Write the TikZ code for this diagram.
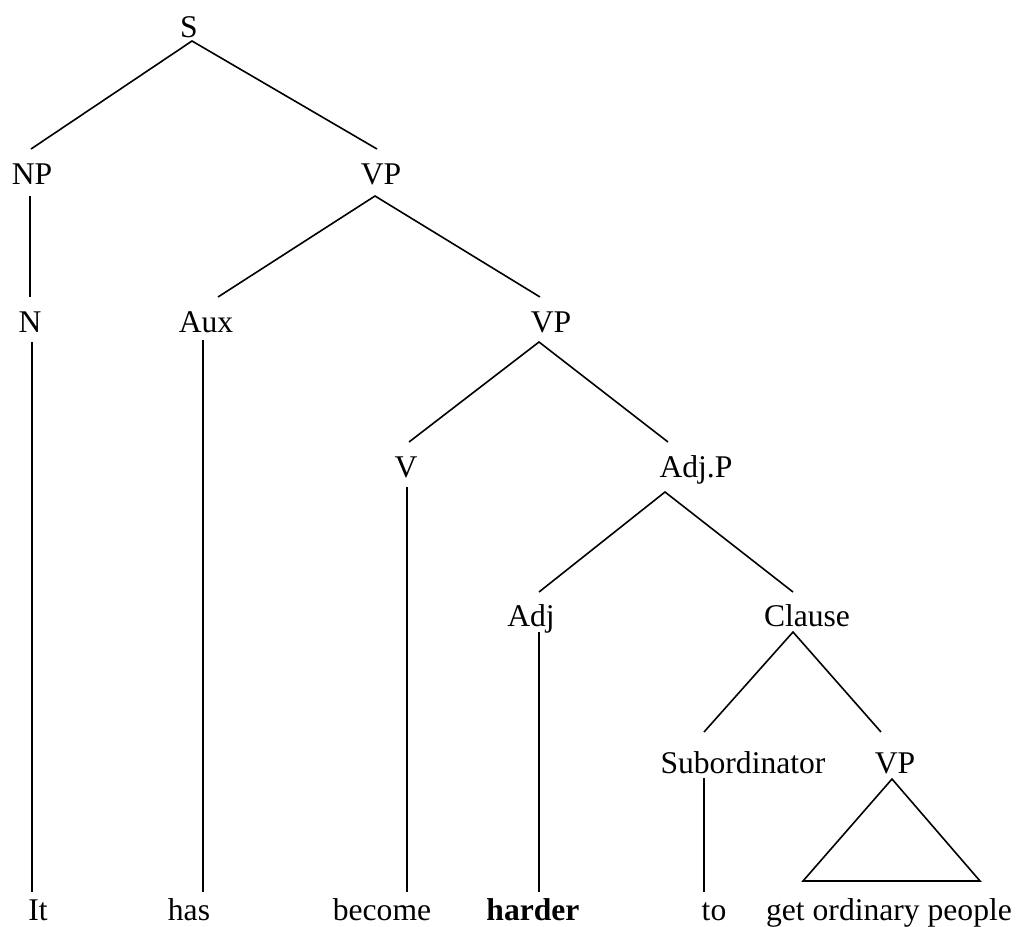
\documentclass[tikz,border=0pt]{standalone}
\usepackage{fontspec}
\setmainfont{Liberation Serif}
\begin{document}
\begin{tikzpicture}[x=1pt,y=-1pt,
  lab/.style={inner sep=0pt,anchor=base,font=\fontsize{31.6}{38}\selectfont},
  branch/.style={draw=black,line width=1.6pt}]
\useasboundingbox (0,0) rectangle (1022,926);

% ---- category labels (placed on their baselines) ----
\node[lab] (S)      at (189,37)  {S};
\node[lab] (NP)     at (32,184)  {NP};
\node[lab] (VPa)    at (381,184) {VP};
\node[lab] (N)      at (30,332)  {N};
\node[lab] (Aux)    at (206,332) {Aux};
\node[lab] (VPb)    at (551,332) {VP};
\node[lab] (V)      at (406,477) {V};
\node[lab] (AdjP)   at (696,477) {Adj.P};
\node[lab] (Adj)    at (531,626) {Adj};
\node[lab] (Clause) at (807,626) {Clause};
\node[lab] (Sub)    at (743,773) {Subordinator};
\node[lab] (VPc)    at (895,773) {VP};

% ---- words ----
\node[lab] (w1) at (38,920)  {It};
\node[lab] (w2) at (189,920) {has};
\node[lab] (w3) at (382,920) {become};
\node[lab] (w4) at (533,920) {\textbf{harder}};
\node[lab] (w5) at (714,920) {to};
\node[lab] (w6) at (889,920) {get ordinary people};

% ---- attachment points above (t) and below (b) each label ----
\coordinate (S-b)      at (192,41);
\coordinate (NP-t)     at (31,149);   \coordinate (NP-b)     at (30,196);
\coordinate (VPa-t)    at (377,149);  \coordinate (VPa-b)    at (375,196);
\coordinate (N-t)      at (30,297);   \coordinate (N-b)      at (32,342);
\coordinate (Aux-t)    at (218,297);  \coordinate (Aux-b)    at (203,340);
\coordinate (VPb-t)    at (540,297);  \coordinate (VPb-b)    at (539,342);
\coordinate (V-t)      at (409,442);  \coordinate (V-b)      at (407,487);
\coordinate (AdjP-t)   at (668,442);  \coordinate (AdjP-b)   at (665,492);
\coordinate (Adj-t)    at (539,592);  \coordinate (Adj-b)    at (539,632);
\coordinate (Clause-t) at (793,592);  \coordinate (Clause-b) at (793,632);
\coordinate (Sub-t)    at (704,732);  \coordinate (Sub-b)    at (704,778);
\coordinate (VPc-t)    at (881,732);  \coordinate (VPc-b)    at (892,779);
\coordinate (w1-t) at (32,892);
\coordinate (w2-t) at (203,892);
\coordinate (w3-t) at (407,892);
\coordinate (w4-t) at (539,892);
\coordinate (w5-t) at (704,892);
\coordinate (w6-l) at (803,881);
\coordinate (w6-r) at (980,881);

% ---- branches ----
\draw[branch] (NP-t) -- (S-b) -- (VPa-t);
\draw[branch] (NP-b) -- (N-t);
\draw[branch] (Aux-t) -- (VPa-b) -- (VPb-t);
\draw[branch] (V-t) -- (VPb-b) -- (AdjP-t);
\draw[branch] (Adj-t) -- (AdjP-b) -- (Clause-t);
\draw[branch] (Sub-t) -- (Clause-b) -- (VPc-t);
\draw[branch] (N-b) -- (w1-t);
\draw[branch] (Aux-b) -- (w2-t);
\draw[branch] (V-b) -- (w3-t);
\draw[branch] (Adj-b) -- (w4-t);
\draw[branch] (Sub-b) -- (w5-t);
\draw[branch,line join=miter] (VPc-b) -- (w6-r) -- (w6-l) -- cycle;
\end{tikzpicture}
\end{document}
